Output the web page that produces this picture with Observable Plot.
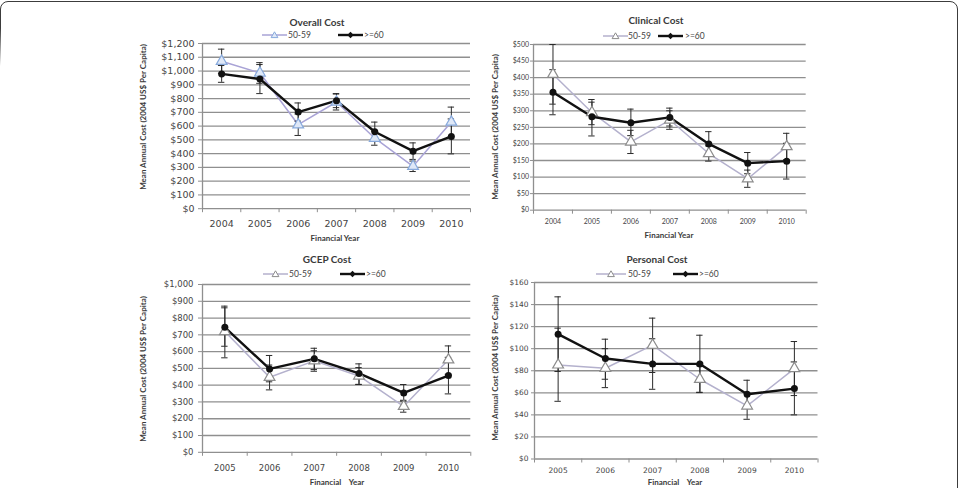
<!DOCTYPE html>
<html>
<head>
<meta charset="utf-8">
<script src="https://cdn.jsdelivr.net/npm/d3@7"></script>
<script src="https://cdn.jsdelivr.net/npm/@observablehq/plot@0.6"></script>
<style>
  html, body { margin: 0; padding: 0; background: #fff; }
  #page { position: relative; width: 961px; height: 488px; overflow: hidden; background: #fff; }
  #frame { position: absolute; left: 0; top: 1px; width: 956px; height: 700px; border: 1.5px solid #3c3c3c; border-radius: 8px; }
  #frame-fade { position: absolute; left: 0; top: 28px; width: 5px; height: 470px; background: linear-gradient(to bottom, rgba(255,255,255,0), #fff 38px); }
  .chart { position: absolute; }
  .txt { position: absolute; white-space: pre; font-family: Lato, "Open Sans", sans-serif; color: #3a3a3a; transform: translate(-50%, -50%); line-height: 1; }
  .title { font-weight: bold; font-size: 10px; }
  .xlab { font-weight: bold; font-size: 8px; }
  .ylab { font-weight: bold; font-size: 8px; transform: translate(-50%, -50%) rotate(-90deg); }
  .legtxt { position: absolute; white-space: pre; font-family: Lato, "Open Sans", sans-serif; font-size: 8.5px; color: #444; transform: translateY(-50%); line-height: 1; }
  .swatch { position: absolute; transform: translateY(-50%); overflow: visible; }
</style>
</head>
<body>
<div id="page">
  <div id="frame"></div>
  <div id="frame-fade"></div>
</div>
<script>
// Financial years shown on each panel
const yearsClinical = ["2004", "2005", "2006", "2007", "2008", "2009", "2010"];
const yearsGcep = ["2005", "2006", "2007", "2008", "2009", "2010"];
const groups = ["50-59", ">=60"];

// Overall cost (mean, lower and upper error bar) per age group
const overall5059 = [1071, 986, 610, 775, 512, 308, 629];
const overall5059Lo = [983, 911, 532, 717, 461, 270, 520];
const overall5059Hi = [1159, 1061, 688, 833, 563, 346, 738];
const overall60 = [979, 942, 702, 785, 559, 418, 525];
const overall60Lo = [918, 836, 636, 734, 489, 358, 398];
const overall60Hi = [1040, 1047, 768, 836, 629, 478, 652];

// Clinical cost
const clinical5059 = [410, 295, 206, 272, 171, 95, 192];
const clinical5059Lo = [320, 258, 171, 244, 148, 69, 152];
const clinical5059Hi = [500, 334, 241, 300, 194, 121, 232];
const clinical60 = [356, 282, 264, 280, 200, 142, 148];
const clinical60Lo = [288, 224, 225, 254, 163, 110, 94];
const clinical60Hi = [424, 326, 305, 308, 237, 174, 202];

// GCEP cost
const gcep5059 = [720, 447, 545, 455, 274, 551];
const gcep5059Lo = [563, 372, 483, 404, 239, 465];
const gcep5059Hi = [861, 520, 605, 505, 310, 634];
const gcep60 = [745, 497, 557, 470, 354, 457];
const gcep60Lo = [632, 420, 493, 405, 305, 348];
const gcep60Hi = [871, 577, 620, 527, 404, 566];

// Personal cost
const personal5059 = [85.3, 82.3, 103.2, 72.3, 48.1, 82];
const personal5059Lo = [52.3, 64.7, 78.4, 60.2, 36, 57.5];
const personal5059Hi = [118.6, 100, 127.7, 84.5, 60, 106.5];
const personal60 = [113.2, 91.1, 86.2, 86.2, 58.7, 63.8];
const personal60Lo = [79.3, 72.3, 63.2, 60.5, 46, 40];
const personal60Hi = [147, 108.6, 109, 112.2, 71.4, 88];

// Y axis tick values
const ticksOverall = d3.range(0, 1201, 100);
const ticksClinical = d3.range(0, 501, 50);
const ticksGcep = d3.range(0, 1001, 100);
const ticksPersonal = d3.range(0, 161, 20);

const yLabel = "Mean Annual Cost (2004 US$ Per Capita)";
const fmtDollar = d => "$" + d3.format(",")(d);

const panels = [
  {
    title: "Overall Cost", years: yearsClinical, yTicks: ticksOverall,
    a: overall5059, aLo: overall5059Lo, aHi: overall5059Hi,
    b: overall60, bLo: overall60Lo, bHi: overall60Hi,
    box: {x0: 202, x1: 470, y0: 43.3, y1: 208.5},
    font: "DejaVu Sans", fontSize: 9.5, tickSize: 4, tickPad: 4, xPad: 11.5,
    lineA: "#a9a3d6", triStroke: "#87a9dc", triFill: "#dfe8f7",
    titleAt: [317, 22], legY: 35, legA: [262, 288, 25], legB: [338, 364, 25],
    ylabAt: [143, 117], xlab: "Financial Year", xlabAt: [335, 238]
  },
  {
    title: "Clinical Cost", years: yearsClinical, yTicks: ticksClinical,
    a: clinical5059, aLo: clinical5059Lo, aHi: clinical5059Hi,
    b: clinical60, bLo: clinical60Lo, bHi: clinical60Hi,
    box: {x0: 533.3, x1: 806, y0: 44.3, y1: 210},
    font: "Lato", fontSize: 7, tickSize: 3, tickPad: 1.5, xPad: 9,
    lineA: "#b4b1cd", triStroke: "#8c8c8c", triFill: "#ffffff",
    titleAt: [656, 20], legY: 36, legA: [603, 628, 25], legB: [658, 685, 25],
    ylabAt: [495, 127], xlab: "Financial Year", xlabAt: [669, 235]
  },
  {
    title: "GCEP Cost", years: yearsGcep, yTicks: ticksGcep,
    a: gcep5059, aLo: gcep5059Lo, aHi: gcep5059Hi,
    b: gcep60, bLo: gcep60Lo, bHi: gcep60Hi,
    box: {x0: 201.7, x1: 470, y0: 284, y1: 451.8},
    font: "DejaVu Sans", fontSize: 8.5, tickSize: 4, tickPad: 5, xPad: 12.5,
    lineA: "#b4b1cd", triStroke: "#8c8c8c", triFill: "#ffffff",
    titleAt: [327, 259], legY: 274, legA: [263, 289, 25], legB: [340, 366, 25],
    ylabAt: [143, 369], xlab: "Financial    Year", xlabAt: [337, 482]
  },
  {
    title: "Personal Cost", years: yearsGcep, yTicks: ticksPersonal,
    a: personal5059, aLo: personal5059Lo, aHi: personal5059Hi,
    b: personal60, bLo: personal60Lo, bHi: personal60Hi,
    box: {x0: 534, x1: 817.5, y0: 281.7, y1: 458.2},
    font: "DejaVu Sans", fontSize: 7.5, tickSize: 3, tickPad: 3, xPad: 8.3,
    lineA: "#b4b1cd", triStroke: "#8c8c8c", triFill: "#ffffff",
    titleAt: [657, 259], legY: 274, legA: [596, 628, 30], legB: [673, 699, 25],
    ylabAt: [495, 368], xlab: "Financial    Year", xlabAt: [675, 482]
  }
];

const page = document.getElementById("page");

function addText(cls, text, x, y) {
  const d = document.createElement("div");
  d.className = cls;
  d.textContent = text;
  d.style.left = x + "px";
  d.style.top = y + "px";
  page.appendChild(d);
  return d;
}

// Legend swatch: a short line with the series marker in the middle
function addSwatch(x, y, w, group, p) {
  const ns = "http://www.w3.org/2000/svg";
  const svg = document.createElementNS(ns, "svg");
  svg.setAttribute("class", "swatch");
  svg.setAttribute("width", w);
  svg.setAttribute("height", 10);
  svg.style.left = x + "px";
  svg.style.top = y + "px";
  const c = w / 2;
  const young = group === groups[0];
  const line = document.createElementNS(ns, "line");
  line.setAttribute("x1", 0); line.setAttribute("x2", w);
  line.setAttribute("y1", 5); line.setAttribute("y2", 5);
  line.setAttribute("stroke", young ? p.lineA : "#111");
  line.setAttribute("stroke-width", young ? 1.5 : 2.4);
  svg.appendChild(line);
  const mk = document.createElementNS(ns, "path");
  if (young) {
    mk.setAttribute("d", `M${c},1.8L${c + 3.4},7.6L${c - 3.4},7.6Z`);
    mk.setAttribute("fill", p.triFill);
    mk.setAttribute("stroke", p.triStroke);
  } else {
    mk.setAttribute("d", `M${c},1.8L${c + 3.2},5L${c},8.2L${c - 3.2},5Z`);
    mk.setAttribute("fill", "#111");
  }
  svg.appendChild(mk);
  page.appendChild(svg);
}

function drawPanel(p) {
  const n = p.years.length;
  const rows = p.years.flatMap((year, i) => [
    {i, year, group: groups[0], v: p.a[i], lo: p.aLo[i], hi: p.aHi[i]},
    {i, year, group: groups[1], v: p.b[i], lo: p.bLo[i], hi: p.bHi[i]}
  ]);
  const younger = rows.filter(d => d.group === groups[0]);
  const older = rows.filter(d => d.group === groups[1]);
  const cx = d => d.i + 0.5;
  const {x0, x1, y0, y1} = p.box;
  const cap = 3.2 / ((x1 - x0) / n);
  const m = {left: 62, right: 8, top: 6, bottom: 28};
  const grid = "#8f8f8f";

  const chart = Plot.plot({
    width: x1 - x0 + m.left + m.right,
    height: y1 - y0 + m.top + m.bottom,
    marginLeft: m.left, marginRight: m.right, marginTop: m.top, marginBottom: m.bottom,
    x: {domain: [0, n], axis: null},
    y: {domain: [0, p.yTicks[p.yTicks.length - 1]], axis: null},
    style: {fontFamily: p.font, fontSize: p.fontSize + "px", color: "#444", background: "transparent", overflow: "visible"},
    marks: [
      Plot.ruleY(p.yTicks, {stroke: grid, strokeWidth: 1.3}),
      Plot.ruleX([0], {stroke: grid, strokeWidth: 1.3}),
      Plot.axisY({ticks: p.yTicks, tickFormat: fmtDollar, tickSize: p.tickSize, tickPadding: p.tickPad, stroke: grid, label: null}),
      Plot.axisX({ticks: d3.range(n + 1), tickFormat: () => "", tickSize: 4, stroke: grid, label: null}),
      Plot.axisX({ticks: d3.range(n).map(i => i + 0.5), tickFormat: t => p.years[Math.floor(t)], tickSize: 0, tickPadding: p.xPad, label: null}),
      Plot.line(younger, {x: cx, y: "v", stroke: p.lineA, strokeWidth: 1.5}),
      Plot.line(older, {x: cx, y: "v", stroke: "#111", strokeWidth: 2.4}),
      Plot.ruleX(rows, {x: cx, y1: "lo", y2: "hi", stroke: "#2a2a2a", strokeWidth: 1}),
      Plot.ruleY(rows, {y: "lo", x1: d => cx(d) - cap, x2: d => cx(d) + cap, stroke: "#2a2a2a", strokeWidth: 1}),
      Plot.ruleY(rows, {y: "hi", x1: d => cx(d) - cap, x2: d => cx(d) + cap, stroke: "#2a2a2a", strokeWidth: 1}),
      Plot.dot(younger, {x: cx, y: "v", symbol: "triangle", r: 4, fill: p.triFill, stroke: p.triStroke, strokeWidth: 1.2}),
      Plot.dot(older, {x: cx, y: "v", r: 3.5, fill: "#111"})
    ]
  });
  chart.classList.add("chart");
  chart.style.left = (x0 - m.left) + "px";
  chart.style.top = (y0 - m.top) + "px";
  page.appendChild(chart);

  addText("txt title", p.title, p.titleAt[0], p.titleAt[1]);
  addSwatch(p.legA[0], p.legY, p.legA[2], groups[0], p);
  addText("legtxt", groups[0], p.legA[1], p.legY);
  addSwatch(p.legB[0], p.legY, p.legB[2], groups[1], p);
  addText("legtxt", groups[1], p.legB[1], p.legY);
  addText("txt ylab", yLabel, p.ylabAt[0], p.ylabAt[1]);
  addText("txt xlab", p.xlab, p.xlabAt[0], p.xlabAt[1]);
}

panels.forEach(drawPanel);
// keep the frame edge above the charts
page.appendChild(document.getElementById("frame-fade"));
</script>
</body>
</html>
